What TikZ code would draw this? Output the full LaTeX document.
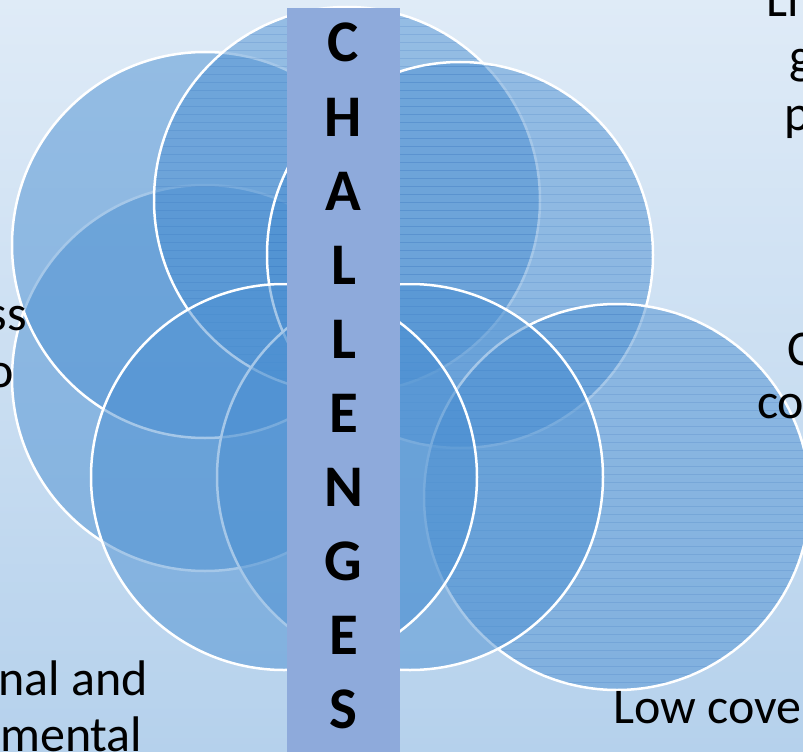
\documentclass[tikz,border=0pt]{standalone}
\usepackage{fontspec}
\setmainfont{Carlito}
\definecolor{bgtop}{RGB}{223,235,247}
\definecolor{bgbot}{RGB}{181,209,236}
\definecolor{bubblefill}{RGB}{76,144,210}
\definecolor{barcol}{RGB}{142,170,219}
\definecolor{stripecol}{RGB}{40,100,180}
\begin{document}
\begin{tikzpicture}[x=1pt,y=-1pt,
  bubble/.style={circle, inner sep=0pt, minimum size=386pt, fill=bubblefill, fill opacity=0.5, draw=white, draw opacity=1, line width=2.5pt},
  lbl/.style={inner sep=0pt, font=\fontsize{50}{56}\selectfont, text=black},
  letter/.style={inner sep=0pt, font=\fontsize{59}{59}\selectfont\bfseries, text=black, anchor=base},
  stripe/.style={draw=stripecol, draw opacity=0.16, line width=0.9pt}]
\useasboundingbox (0,0) rectangle (803,752);
\clip (0,0) rectangle (803,752);
\shade[top color=bgtop, bottom color=bgbot] (0,0) rectangle (803,752);

% circles, bottom to top
\node[bubble] (D) at (205,378) {};
\node[bubble] (A) at (205,245) {};
\node[bubble] (B) at (347,200) {};
\begin{scope}
  \clip (B.center) circle (192pt);
  \foreach \yy in {10,18,...,400} \draw[stripe] (150,\yy) -- (545,\yy);
\end{scope}
\node[bubble] (C) at (460,255) {};
\begin{scope}
  \clip (C.center) circle (192pt);
  \foreach \yy in {66,74,...,450} \draw[stripe] (265,\yy) -- (656,\yy);
\end{scope}
\node[bubble] (G) at (617,497) {};
\begin{scope}
  \clip (G.center) circle (192pt);
  \foreach \yy in {306,314,...,690} \draw[stripe] (422,\yy) -- (812,\yy);
\end{scope}
\node[bubble] (F) at (410,477) {};
\node[bubble] (E) at (284,477) {};

% vertical bar
\node[fill=barcol, inner sep=0pt, minimum width=113pt, minimum height=760pt, anchor=north west] (bar) at (287,8) {};
\node[letter] (l1) at (343.5,62) {C};
\node[letter] (l2) at (343.5,136) {H};
\node[letter] (l3) at (343.5,210) {A};
\node[letter] (l4) at (343.5,284) {L};
\node[letter] (l5) at (343.5,358) {L};
\node[letter] (l6) at (343.5,432) {E};
\node[letter] (l7) at (343.5,506) {N};
\node[letter] (l8) at (343.5,580) {G};
\node[letter] (l9) at (343.5,654) {E};
\node[letter] (l10) at (343.5,728) {S};

% labels, cut by the picture's edges as in the reference
\node[lbl, anchor=base west] (t1) at (766,17) {Li};
\node[lbl, anchor=base west] (t2) at (789,74) {g};
\node[lbl, anchor=base west] (t3) at (784,130) {p};
\node[lbl, anchor=base east] (t4) at (27,330) {ss};
\node[lbl, anchor=base east] (t5) at (14,387) {o};
\node[lbl, anchor=base west] (t6) at (787,365) {C};
\node[lbl, anchor=base west] (t7) at (757,418) {co};
\node[lbl, anchor=base west] (t8) at (-2,695) {nal and};
\node[lbl, anchor=base west] (t9) at (0,751) {mental};
\node[lbl, anchor=base west] (t10) at (613,723) {Low cove};
\end{tikzpicture}
\end{document}
